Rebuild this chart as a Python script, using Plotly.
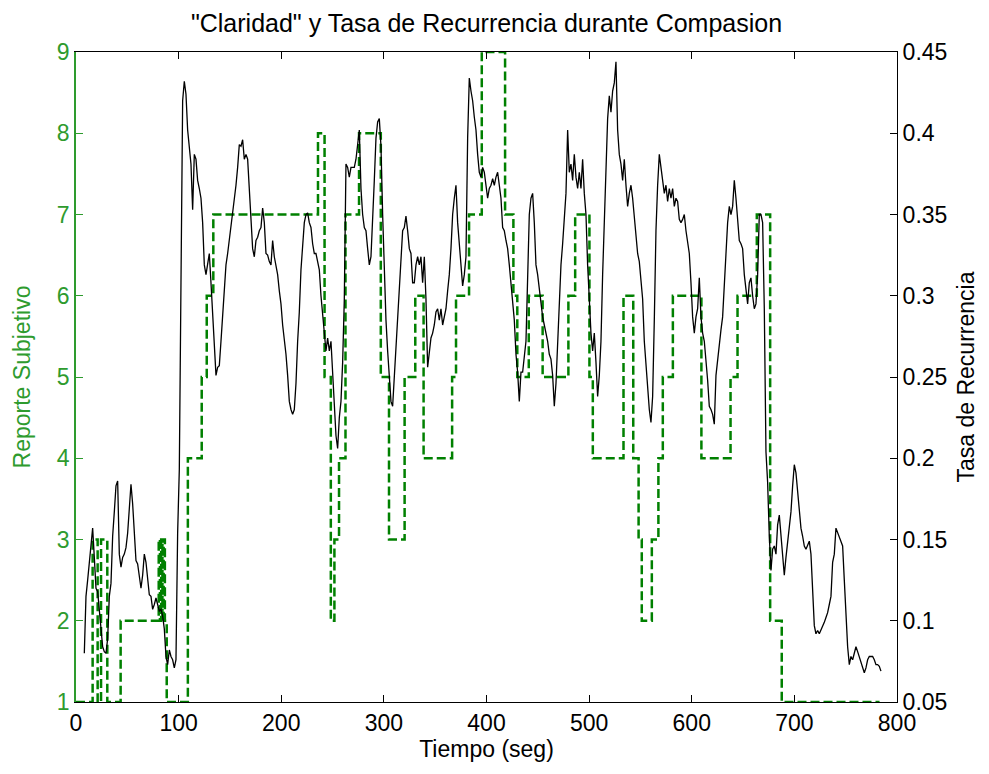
import numpy as np
import plotly.graph_objects as go

# --- Subjective report ("Claridad"), step series on the left axis ---
report_time = [0, 16.2, 21.1, 24.4, 30.5, 43.5, 80.6, 81.8, 83.0, 84.2,
               85.4, 86.6, 88.4, 109.0, 122.5, 127.4, 133.8, 235.8, 242.2, 248.3,
               251.8, 256.3, 262.6, 275.8, 297.0, 305.0, 320.2, 330.6, 338.7, 366.5,
               370.3, 383.0, 395.4, 418.1, 426.2, 430.0, 441.2, 454.7, 479.8, 486.4,
               500.3, 503.6, 533.5, 543.0, 548.2, 551.3, 561.1, 567.5, 571.8, 581.6,
               609.4, 637.8, 644.6, 663.4, 676.4, 687.7, 783.0]
report_level = [1, 3, 1, 3, 1, 2, 3, 2, 3, 2,
                3, 2, 1, 4, 5, 6, 7, 8, 5, 2,
                3, 4, 7, 8, 5, 3, 5, 6, 4, 5,
                6, 7, 9, 7, 6, 5, 6, 5, 6, 7,
                5, 4, 6, 4, 3, 2, 3, 4, 5, 6,
                4, 5, 6, 7, 2, 1, 1]

# --- Recurrence rate, uniformly sampled, right axis ---
RR_T0 = 8.1      # first sample time (s)
RR_DT = 1.624    # sampling period (s)
rr_part1 = [0.080, 0.115, 0.125, 0.137, 0.150, 0.157, 0.139, 0.120, 0.118, 0.107,
            0.094, 0.084, 0.081, 0.080, 0.089, 0.115, 0.123, 0.152, 0.167, 0.183,
            0.186, 0.141, 0.133, 0.139, 0.141, 0.145, 0.154, 0.170, 0.184, 0.172,
            0.152, 0.137, 0.135, 0.128, 0.120, 0.128, 0.141, 0.136, 0.124, 0.116,
            0.115, 0.107, 0.110, 0.114, 0.110, 0.106, 0.107, 0.103, 0.095, 0.078,
            0.073, 0.082, 0.078, 0.076, 0.071, 0.076, 0.154, 0.193, 0.308, 0.420,
            0.432, 0.424, 0.402, 0.392, 0.381, 0.353, 0.387]
rr_part2 = [0.384, 0.371, 0.366, 0.360, 0.345, 0.319, 0.313, 0.319, 0.326, 0.308,
            0.290, 0.264, 0.251, 0.256, 0.257, 0.272, 0.287, 0.300, 0.319, 0.326,
            0.334, 0.345, 0.350, 0.358, 0.368, 0.379, 0.393, 0.392, 0.396, 0.384,
            0.387, 0.384, 0.363, 0.350, 0.329, 0.324, 0.334, 0.336, 0.340, 0.342,
            0.354, 0.345, 0.326, 0.325, 0.321, 0.319, 0.334, 0.324, 0.319, 0.313,
            0.303, 0.295, 0.282, 0.274, 0.264, 0.251, 0.235, 0.230, 0.227, 0.230,
            0.246, 0.272, 0.290, 0.316, 0.334, 0.345, 0.350, 0.351, 0.345, 0.342,
            0.332, 0.326]
rr_part3 = [0.326, 0.321, 0.316, 0.300, 0.287, 0.277, 0.266, 0.274, 0.266, 0.272,
            0.251, 0.232, 0.214, 0.206, 0.225, 0.235, 0.259, 0.298, 0.381, 0.379,
            0.373, 0.379, 0.379, 0.379, 0.384, 0.392, 0.402, 0.366, 0.350, 0.342,
            0.340, 0.329, 0.319, 0.324, 0.353, 0.371, 0.397, 0.407, 0.409, 0.392,
            0.350, 0.308, 0.285, 0.266, 0.246, 0.235, 0.232, 0.251, 0.272, 0.287,
            0.303, 0.324, 0.340, 0.342, 0.349, 0.340, 0.329, 0.326, 0.308, 0.308,
            0.319, 0.324, 0.319, 0.324, 0.308, 0.324, 0.298, 0.256, 0.266, 0.274,
            0.277, 0.282]
rr_part4 = [0.290, 0.292, 0.285, 0.292, 0.282, 0.287, 0.292, 0.303, 0.313, 0.329,
            0.350, 0.360, 0.368, 0.345, 0.332, 0.319, 0.306, 0.313, 0.324, 0.397,
            0.434, 0.426, 0.420, 0.410, 0.402, 0.387, 0.376, 0.373, 0.379, 0.376,
            0.368, 0.360, 0.366, 0.368, 0.372, 0.368, 0.373, 0.376, 0.368, 0.360,
            0.342, 0.340, 0.334, 0.329, 0.319, 0.308, 0.300, 0.285, 0.264, 0.253,
            0.235, 0.253, 0.253, 0.261, 0.272, 0.311, 0.350, 0.360, 0.363, 0.345,
            0.319, 0.313, 0.303, 0.295, 0.287, 0.282, 0.277, 0.272, 0.264, 0.261,
            0.251, 0.232]
rr_part5 = [0.246, 0.272, 0.298, 0.319, 0.332, 0.345, 0.363, 0.402, 0.376, 0.381,
            0.371, 0.387, 0.373, 0.366, 0.376, 0.366, 0.384, 0.363, 0.350, 0.319,
            0.292, 0.277, 0.266, 0.277, 0.259, 0.238, 0.251, 0.272, 0.313, 0.345,
            0.381, 0.409, 0.423, 0.413, 0.426, 0.431, 0.444, 0.402, 0.387, 0.381,
            0.371, 0.384, 0.368, 0.355, 0.363, 0.368, 0.360, 0.350, 0.340, 0.326,
            0.321, 0.308, 0.298, 0.272, 0.256, 0.240, 0.230, 0.222, 0.238, 0.285,
            0.340, 0.368, 0.387, 0.379, 0.371, 0.363, 0.368, 0.358, 0.366, 0.360,
            0.366, 0.355]
rr_part6 = [0.360, 0.358, 0.347, 0.345, 0.347, 0.350, 0.340, 0.332, 0.326, 0.308,
            0.287, 0.277, 0.287, 0.292, 0.311, 0.287, 0.277, 0.272, 0.261, 0.248,
            0.232, 0.230, 0.227, 0.221, 0.251, 0.261, 0.272, 0.279, 0.287, 0.308,
            0.324, 0.345, 0.355, 0.350, 0.355, 0.371, 0.360, 0.345, 0.334, 0.332,
            0.329, 0.313, 0.303, 0.295, 0.308, 0.311, 0.300, 0.292, 0.295, 0.313,
            0.350, 0.350, 0.345, 0.292, 0.204, 0.185, 0.152, 0.131, 0.144, 0.146,
            0.141, 0.159, 0.165, 0.152, 0.141, 0.128, 0.139, 0.149, 0.157]
rr_part7 = [0.167, 0.183, 0.196, 0.191, 0.178, 0.167, 0.157, 0.152, 0.146, 0.144,
            0.146, 0.149, 0.141, 0.115, 0.097, 0.092, 0.094, 0.092, 0.094, 0.097,
            0.099, 0.102, 0.105, 0.110, 0.115, 0.136, 0.141, 0.157, 0.154, 0.152,
            0.149, 0.146, 0.125, 0.099, 0.084, 0.073, 0.078, 0.076, 0.081, 0.084,
            0.081, 0.078, 0.075, 0.071, 0.068, 0.071, 0.076, 0.078, 0.078, 0.078,
            0.076, 0.073, 0.073, 0.072, 0.069]
rr_values = rr_part1 + rr_part2 + rr_part3 + rr_part4 + rr_part5 + rr_part6 + rr_part7
rr_time = RR_T0 + RR_DT * np.arange(len(rr_values))

x_ticks = [0, 100, 200, 300, 400, 500, 600, 700, 800]
left_ticks = [1, 2, 3, 4, 5, 6, 7, 8, 9]
right_ticks = [0.05, 0.1, 0.15, 0.2, 0.25, 0.3, 0.35, 0.4, 0.45]
right_labels = ["0.05", "0.1", "0.15", "0.2", "0.25", "0.3", "0.35", "0.4", "0.45"]

GREEN_LINE = "#008000"
GREEN_AXIS = "#2E9B2E"
FONT = "Liberation Sans"
FS = 23

fig = go.Figure()
fig.add_trace(go.Scatter(
    x=report_time, y=report_level, mode="lines", line_shape="hv",
    line=dict(color=GREEN_LINE, width=2.5, dash="9px,4px"),
    yaxis="y", showlegend=False, hoverinfo="skip"))
fig.add_trace(go.Scatter(
    x=rr_time, y=rr_values, mode="lines",
    line=dict(color="black", width=1.3),
    yaxis="y2", showlegend=False, hoverinfo="skip"))

fig.update_layout(
    width=989, height=774,
    margin=dict(l=76, r=92, t=52, b=72),
    paper_bgcolor="white", plot_bgcolor="white",
    font=dict(family=FONT, size=FS, color="black"),
    title=dict(text='"Claridad" y Tasa de Recurrencia durante Compasion',
               x=0.5, xref="paper", xanchor="center",
               y=1 - 23 / 774, yref="container", yanchor="middle",
               font=dict(family=FONT, size=25, color="black")),
    xaxis=dict(range=[0, 800], tickvals=x_ticks, ticks="inside", ticklen=7,
               tickcolor="black", showline=True, linecolor="black", linewidth=1,
               mirror="ticks", showgrid=False, zeroline=False,
               tickfont=dict(size=FS, color="black"),
               title=dict(text="Tiempo (seg)", font=dict(size=FS, color="black"),
                          standoff=5)),
    yaxis=dict(range=[1, 9], tickvals=left_ticks, ticks="inside", ticklen=7,
               tickcolor=GREEN_AXIS, showline=True, linecolor=GREEN_AXIS, linewidth=1.5,
               showgrid=False, zeroline=False,
               tickfont=dict(size=FS, color=GREEN_AXIS),
               title=dict(text="Reporte Subjetivo", font=dict(size=FS, color=GREEN_AXIS),
                          standoff=20)),
    yaxis2=dict(range=[0.05, 0.45], tickvals=right_ticks, ticktext=right_labels,
                overlaying="y", side="right", ticks="inside", ticklen=7,
                tickcolor="black", showline=True, linecolor="black", linewidth=1,
                showgrid=False, zeroline=False,
                tickfont=dict(size=FS, color="black"),
                title=dict(text="Tasa de Recurrencia", font=dict(size=FS, color="black"),
                           standoff=11)),
)

fig.write_html("out.html")
